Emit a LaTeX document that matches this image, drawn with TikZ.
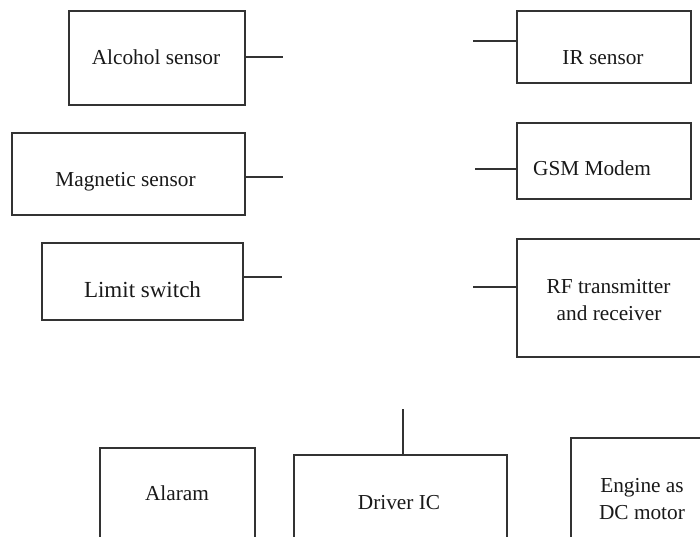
\documentclass[tikz,border=0pt]{standalone}
\usepackage{fontspec}
\setmainfont{Liberation Serif}
\begin{document}
\begin{tikzpicture}[x=1pt,y=-1pt,
  blk/.style={draw=black!80, line width=1.1pt, rectangle, inner sep=0pt, outer sep=0pt},
  lbl/.style={anchor=base, inner sep=0pt, font=\fontsize{21.3}{27}\selectfont, text=black!90},
  wire/.style={draw=black!80, line width=1.1pt}]
\useasboundingbox (0,0) rectangle (700,537);
\clip (0,0) rectangle (700,537);
\fill[white] (0,0) rectangle (700,537);

% left column: sensors
\node[blk, minimum width=176, minimum height=94] (alc) at (157,58) {};
\node[lbl] (alcT) at (156,65) {Alcohol sensor};
\node[blk, minimum width=233, minimum height=82] (mag) at (128.5,174) {};
\node[lbl] (magT) at (125.5,187) {Magnetic sensor};
\node[blk, minimum width=201, minimum height=77] (lim) at (142.5,281.5) {};
\node[lbl, font=\fontsize{23}{28}\selectfont] (limT) at (142.5,297) {Limit switch};

% right column
\node[blk, minimum width=174, minimum height=72] (ir) at (604,47) {};
\node[lbl] (irT) at (603,65) {IR sensor};
\node[blk, minimum width=174, minimum height=76] (gsm) at (604,161) {};
\node[lbl] (gsmT) at (592,176) {GSM Modem};
\node[blk, minimum width=188, minimum height=118] (rf) at (611,298) {};
\node[lbl] (rfT1) at (608.5,293) {RF transmitter};
\node[lbl] (rfT2) at (609,320) {and receiver};

% bottom row: outputs
\node[blk, minimum width=155, minimum height=97] (alarm) at (177.5,496.5) {};
\node[lbl] (alarmT) at (177,500) {Alaram};
\node[blk, minimum width=213, minimum height=90] (drv) at (400.5,500) {};
\node[lbl] (drvT) at (399,509) {Driver IC};
\node[blk, minimum width=134, minimum height=107] (eng) at (638,491.5) {};
\node[lbl] (engT1) at (642,492) {Engine as};
\node[lbl] (engT2) at (642,519) {DC motor};

% free ends of the stub connectors
\coordinate (alcEnd) at (283,57);
\coordinate (magEnd) at (283,177);
\coordinate (limEnd) at (282,277);
\coordinate (irEnd)  at (473,41);
\coordinate (gsmEnd) at (475,169);
\coordinate (rfEnd)  at (473,287);
\coordinate (drvEnd) at (403,409);

\draw[wire] (alcEnd -| alc.east) -- (alcEnd);
\draw[wire] (magEnd -| mag.east) -- (magEnd);
\draw[wire] (limEnd -| lim.east) -- (limEnd);
\draw[wire] (irEnd -| ir.west) -- (irEnd);
\draw[wire] (gsmEnd -| gsm.west) -- (gsmEnd);
\draw[wire] (rfEnd -| rf.west) -- (rfEnd);
\draw[wire] (drvEnd |- drv.north) -- (drvEnd);
\end{tikzpicture}
\end{document}
